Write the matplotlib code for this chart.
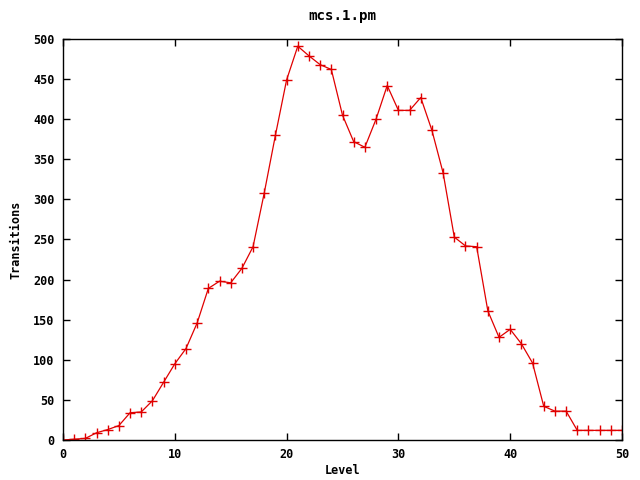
import matplotlib
matplotlib.use('Agg')
import matplotlib.pyplot as plt

# data
levels = list(range(0, 51))
transitions = [0, 1, 2, 9, 13, 18, 34, 35, 49, 72,
               95, 114, 146, 189, 198, 196, 214, 241, 308, 380,
               449, 491, 479, 468, 462, 405, 372, 365, 400, 442,
               411, 411, 427, 386, 333, 253, 242, 241, 161, 128,
               138, 120, 96, 42, 36, 36, 12, 12, 12, 12, 12]

plt.rcParams['font.family'] = 'DejaVu Sans Mono'
plt.rcParams['font.weight'] = 'bold'
plt.rcParams['font.size'] = 8.5

fig = plt.figure(figsize=(6.4, 4.8), dpi=100)
ax = fig.add_axes([63/640, 40/480, 559/640, 401/480])

ax.plot(levels, transitions, color='#e00000', linewidth=0.9,
        marker='+', markersize=7, markeredgewidth=1.0)

ax.set_xlim(0, 50)
ax.set_ylim(0, 500)
ax.set_xticks(range(0, 51, 10))
ax.set_yticks(range(0, 501, 50))
ax.tick_params(direction='in', length=5, width=1, top=True, right=True, pad=6)
for s in ax.spines.values():
    s.set_linewidth(1)

ax.set_xlabel('Level', fontweight='bold', labelpad=2)
ax.set_ylabel('Transitions', fontweight='bold', labelpad=8)
ax.set_title('mcs.1.pm', fontweight='bold', pad=14)

fig.savefig('out.png', dpi=100)
